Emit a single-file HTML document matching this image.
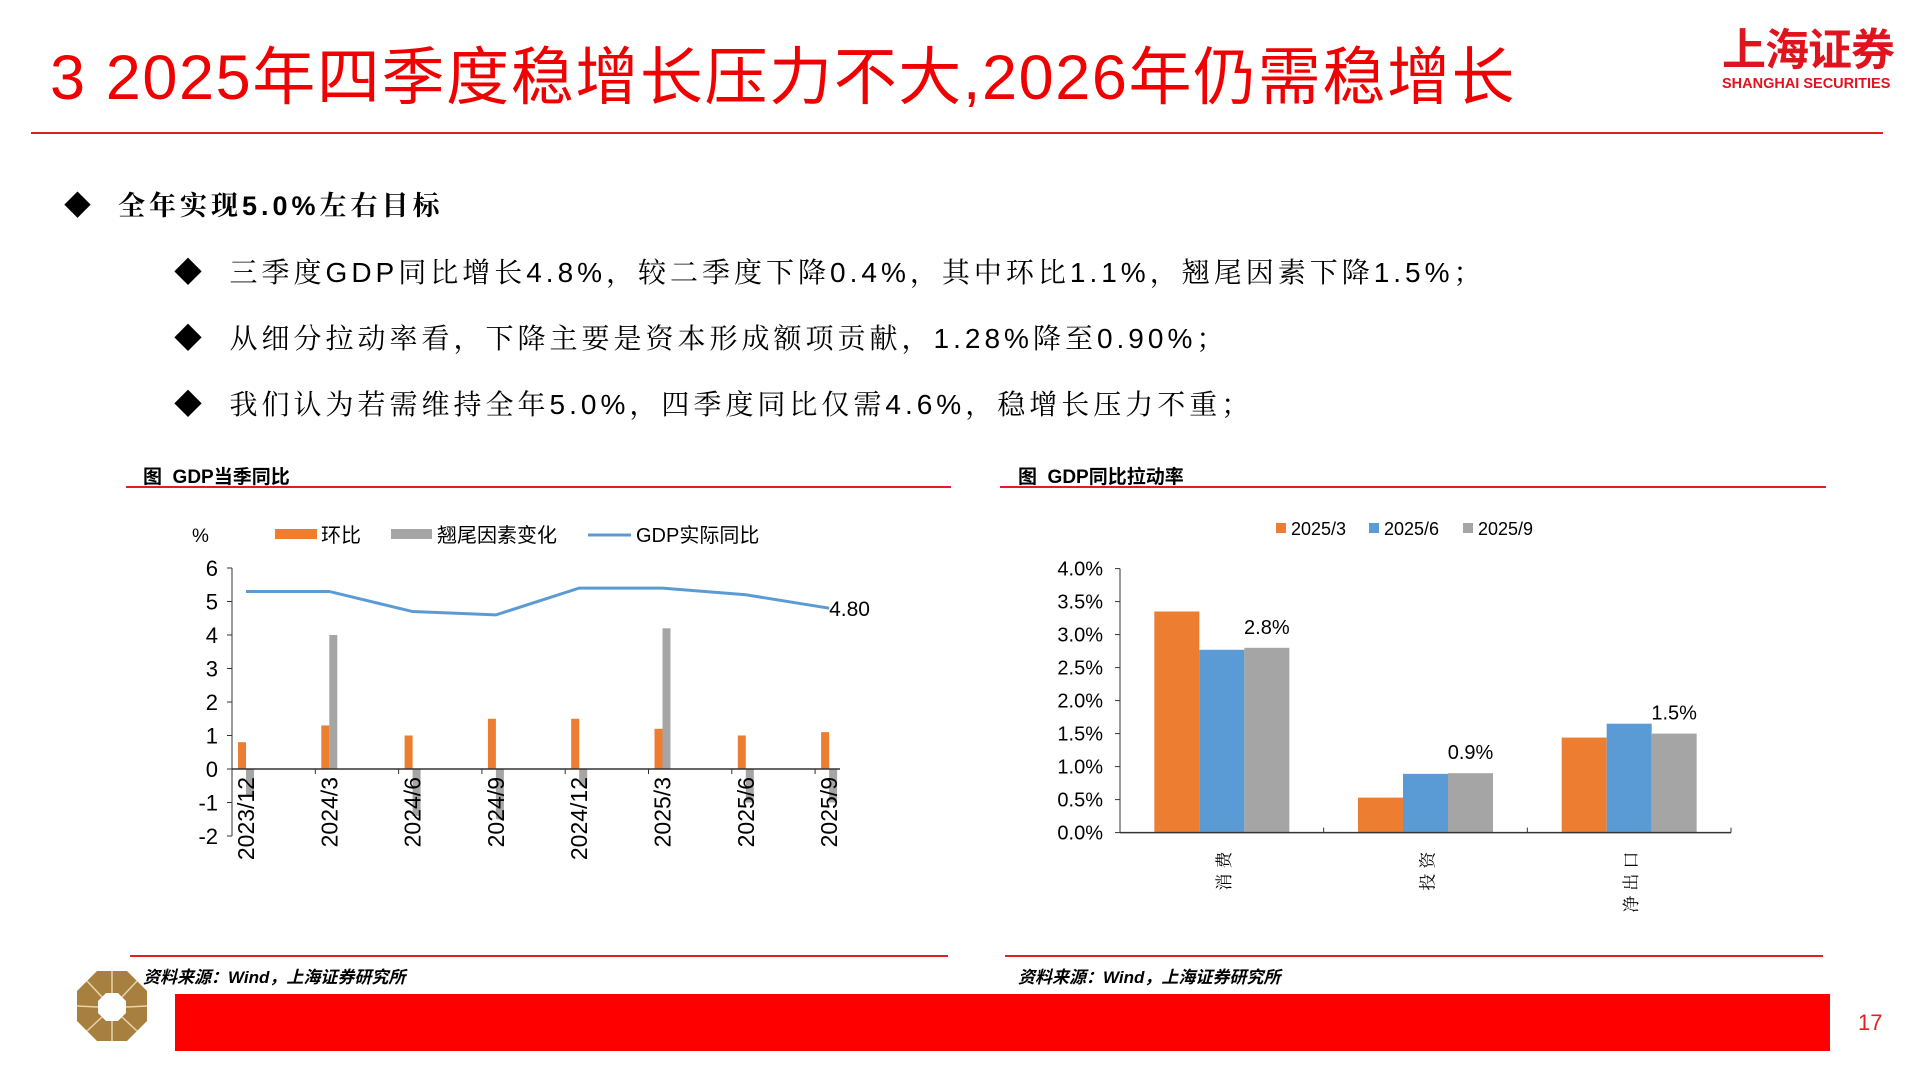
<!DOCTYPE html>
<html><head><meta charset="utf-8">
<style>
body{margin:0;width:1920px;height:1080px;background:#fff;overflow:hidden;position:relative;font-family:"Liberation Sans","Noto Sans CJK SC",sans-serif;}
.abs{position:absolute;white-space:nowrap;}
.title{left:50px;top:38px;font-size:63px;color:#f00000;line-height:80px;letter-spacing:1.6px;}
.bl{font-family:"Liberation Sans","Noto Serif CJK SC",serif;color:#000;letter-spacing:4px;}
</style></head><body>
<div class="abs title">3 2025年四季度稳增长压力不大,2026年仍需稳增长</div>
<div class="abs" style="left:1722px;top:26px;color:#e0141e;font-weight:bold;">
 <div style="font-size:44px;line-height:50px;letter-spacing:-1px;">上海证券</div>
 <div style="font-size:14.5px;line-height:16px;">SHANGHAI SECURITIES</div>
</div>
<div class="abs" style="left:31px;top:132px;width:1852px;height:2px;background:#e02020;"></div>

<div class="abs bl" style="left:64px;top:188px;font-size:27px;font-weight:bold;line-height:36px;">◆&nbsp; 全年实现5.0%左右目标</div>
<div class="abs bl" style="left:174px;top:254px;font-size:28px;line-height:38px;">◆&nbsp; 三季度GDP同比增长4.8%，较二季度下降0.4%，其中环比1.1%，翘尾因素下降1.5%；</div>
<div class="abs bl" style="left:174px;top:320px;font-size:28px;line-height:38px;">◆&nbsp; 从细分拉动率看，下降主要是资本形成额项贡献，1.28%降至0.90%；</div>
<div class="abs bl" style="left:174px;top:386px;font-size:28px;line-height:38px;">◆&nbsp; 我们认为若需维持全年5.0%，四季度同比仅需4.6%，稳增长压力不重；</div>

<div class="abs" style="left:143px;top:462px;font-size:19px;font-weight:bold;">图&nbsp; GDP当季同比</div>
<div class="abs" style="left:126px;top:486px;width:825px;height:2px;background:#e02020;"></div>
<div class="abs" style="left:1018px;top:462px;font-size:19px;font-weight:bold;">图&nbsp; GDP同比拉动率</div>
<div class="abs" style="left:1000px;top:486px;width:826px;height:2px;background:#e02020;"></div>

<div class="abs" style="left:130px;top:955px;width:818px;height:2px;background:#e02020;"></div>
<div class="abs" style="left:1005px;top:955px;width:818px;height:2px;background:#e02020;"></div>
<div class="abs" style="left:143px;top:963px;font-size:17px;font-style:italic;font-weight:bold;">资料来源：Wind，上海证券研究所</div>
<div class="abs" style="left:1018px;top:963px;font-size:17px;font-style:italic;font-weight:bold;">资料来源：Wind，上海证券研究所</div>

<svg class="abs" style="left:70px;top:965px" width="84" height="84">
 <polygon points="27,6 57,6 77,26 77,56 57,76 27,76 7,56 7,26" fill="#a77f3f"/>
 <polygon points="36,28 48,28 56,36 56,48 48,56 36,56 28,48 28,36" fill="#fff"/>
 <g stroke="#e8d6a8" stroke-width="1.5"><line x1="42" y1="6" x2="42" y2="28"/><line x1="42" y1="56" x2="42" y2="76"/><line x1="7" y1="41" x2="28" y2="42"/><line x1="56" y1="42" x2="77" y2="41"/><line x1="17" y1="16" x2="32" y2="32"/><line x1="52" y1="52" x2="67" y2="66"/><line x1="67" y1="16" x2="52" y2="32"/><line x1="32" y1="52" x2="17" y2="66"/></g>
</svg>
<div class="abs" style="left:175px;top:994px;width:1655px;height:57px;background:#ff0000;"></div>
<div class="abs" style="left:1858px;top:1010px;font-size:22px;color:#e02020;">17</div>

<svg id="c1" class="abs" style="left:0;top:0" width="960" height="960"></svg>
<svg id="c2" class="abs" style="left:960px;top:0" width="960" height="960"></svg>

<script>
const NS="http://www.w3.org/2000/svg";
function mk(p,t,a){const e=document.createElementNS(NS,t);for(const k in a)e.setAttribute(k,a[k]);p.appendChild(e);return e;}
// ---- chart 1 data
const c1Cats=["2023/12","2024/3","2024/6","2024/9","2024/12","2025/3","2025/6","2025/9"];
const c1QoQ=[0.8,1.3,1.0,1.5,1.5,1.2,1.0,1.1];
const c1Carry=[-0.8,4.0,-1.4,-1.5,-0.5,4.2,-1.0,-1.0];
const c1YoY=[5.3,5.3,4.7,4.6,5.4,5.4,5.2,4.8];
const c1Ticks=[-2,-1,0,1,2,3,4,5,6];
// ---- chart 2 data
const c2Cats=["消费","投资","净出口"];
const c2Q1=[3.35,0.53,1.44];
const c2Q2=[2.77,0.89,1.65];
const c2Q3=[2.8,0.9,1.5];
const c2Ticks=[0,0.5,1,1.5,2,2.5,3,3.5,4];

(function(){
 const s=document.getElementById('c1');
 const X0=232,X1=840,step=83.3,Y0=769,unit=33.5;
 const y=v=>Y0-v*unit, x=i=>X0+i*step;
 c1Ticks.forEach(t=>{
  const tk=mk(s,'line',{x1:X0-5,x2:X0,y1:y(t),y2:y(t),stroke:'#333'});
  
  const lb=mk(s,'text',{x:X0-14,y:y(t)+8,'text-anchor':'end','font-size':22,fill:'#000'});lb.textContent=t;
  
 });
 c1Cats.forEach((c,i)=>{
  const o=mk(s,'rect',{x:x(i)+6,y:Math.min(y(c1QoQ[i]),Y0),width:8,height:Math.abs(c1QoQ[i])*unit,fill:'#ed7d31'});
  
  const g=mk(s,'rect',{x:x(i)+14,y:Math.min(y(c1Carry[i]),Y0),width:8,height:Math.abs(c1Carry[i])*unit,fill:'#a5a5a5'});
  
  const tk=mk(s,'line',{x1:x(i),x2:x(i),y1:Y0,y2:Y0+5,stroke:'#333'});
  
  const lb=mk(s,'text',{x:0,y:0,'text-anchor':'end','font-size':23,fill:'#000',transform:`translate(${x(i)+22},${Y0+8}) rotate(-90)`});lb.textContent=c;
  
 });
 const ax=mk(s,'line',{x1:X0,x2:X0,y1:y(6),y2:y(-2),stroke:'#333'});
 
 const xa=mk(s,'line',{x1:X0,x2:X1,y1:Y0,y2:Y0,stroke:'#333','stroke-width':1.5});
 
 const ln=mk(s,'polyline',{points:c1YoY.map((v,i)=>`${x(i)+14},${y(v)}`).join(' '),fill:'none',stroke:'#5b9bd5','stroke-width':3});
 
 const n=c1YoY.length-1;
 const lbl=mk(s,'text',{x:x(n)+14,y:y(c1YoY[n])+8,'font-size':21,fill:'#000'});lbl.textContent=c1YoY[n].toFixed(2);
 
 // legend
 const pc=mk(s,'text',{x:192,y:542,'font-size':19});pc.textContent='%';
 
 const l1=mk(s,'rect',{x:275,y:529,width:42,height:10,fill:'#ed7d31'});
 
 const t1=mk(s,'text',{x:321,y:542,'font-size':20});t1.textContent='环比';
 
 const l2=mk(s,'rect',{x:391,y:529,width:41,height:10,fill:'#a5a5a5'});
 
 const t2=mk(s,'text',{x:437,y:542,'font-size':20});t2.textContent='翘尾因素变化';
 
 const l3=mk(s,'line',{x1:588,x2:631,y1:535,y2:535,stroke:'#5b9bd5','stroke-width':3});
 
 const t3=mk(s,'text',{x:636,y:542,'font-size':20});t3.textContent='GDP实际同比';
 
})();

(function(){
 const s=document.getElementById('c2');
 const X0=160,X1=771,Y0=832.6,unit=66,cw=(X1-X0)/3,bw=45;
 const y=v=>Y0-v*unit;
 c2Ticks.forEach(t=>{
  const tk=mk(s,'line',{x1:X0-5,x2:X0,y1:y(t),y2:y(t),stroke:'#333'});
  
  const lb=mk(s,'text',{x:X0-17,y:y(t)+7,'text-anchor':'end','font-size':20});lb.textContent=t.toFixed(1)+'%';
  
 });
 const cols=['#ed7d31','#5b9bd5','#a5a5a5'];
 c2Cats.forEach((c,i)=>{
  const cx=X0+cw*(i+0.5);
  [c2Q1,c2Q2,c2Q3].forEach((arr,j)=>{
   const r=mk(s,'rect',{x:cx-1.5*bw+j*bw,y:y(arr[i]),width:bw,height:arr[i]*unit,fill:cols[j]});
   
  });
  const dl=mk(s,'text',{x:cx+bw,y:y(c2Q3[i])-14,'text-anchor':'middle','font-size':20});dl.textContent=c2Q3[i].toFixed(1)+'%';
  
  const tk=mk(s,'line',{x1:X0+cw*(i+1),x2:X0+cw*(i+1),y1:Y0,y2:Y0-5,stroke:'#333'});
  
  const lb=mk(s,'text',{x:0,y:0,'text-anchor':'end','font-size':17,'letter-spacing':5,transform:`translate(${cx+8},${Y0+14}) rotate(-90)`,'font-family':'"Noto Serif CJK SC",serif'});lb.textContent=c;
  
 });
 const ax=mk(s,'line',{x1:X0,x2:X0,y1:y(4),y2:Y0,stroke:'#333'});
 
 const xa=mk(s,'line',{x1:X0,x2:X1,y1:Y0,y2:Y0,stroke:'#333','stroke-width':1.5});
 
 const lx=[316,409,503],ln=['2025/3','2025/6','2025/9'];
 ln.forEach((t,j)=>{
  const sq=mk(s,'rect',{x:lx[j],y:523,width:10,height:10,fill:cols[j]});
  
  const tx=mk(s,'text',{x:lx[j]+15,y:535,'font-size':18});tx.textContent=t;
  
 });
})();
</script>
</body></html>
